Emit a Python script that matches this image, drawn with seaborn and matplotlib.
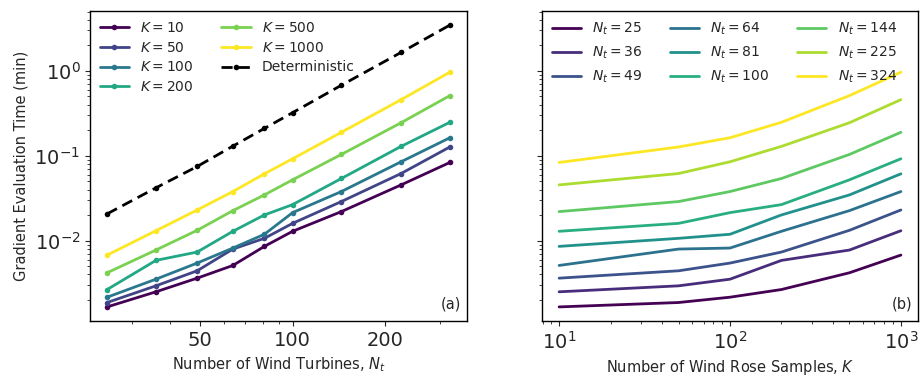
import numpy as np
import pandas as pd
import matplotlib
matplotlib.use("Agg")
import matplotlib.pyplot as plt
import seaborn as sns
from matplotlib.ticker import LogLocator, FixedLocator, ScalarFormatter, NullFormatter

# ---- data ----
n_turbines = [25, 36, 49, 64, 81, 100, 144, 225, 324]
k_samples = [10, 50, 100, 200, 500, 1000]

time_k10 = [0.00166, 0.0025, 0.00362, 0.00511, 0.00857, 0.0129, 0.0220, 0.0454, 0.0834]
time_k50 = [0.00187, 0.00294, 0.00442, 0.00797, 0.01066, 0.0160, 0.0289, 0.0618, 0.127]
time_k100 = [0.00216, 0.00352, 0.00545, 0.00819, 0.0119, 0.0214, 0.0379, 0.085, 0.163]
time_k200 = [0.00266, 0.00586, 0.00735, 0.0129, 0.0201, 0.0266, 0.054, 0.129, 0.248]
time_k500 = [0.00419, 0.00776, 0.01325, 0.0226, 0.0346, 0.0521, 0.1037, 0.245, 0.511]
time_k1000 = [0.00677, 0.0131, 0.0230, 0.0379, 0.0613, 0.0922, 0.189, 0.458, 0.965]
time_deterministic = [0.0207, 0.0419, 0.0748, 0.130, 0.210, 0.322, 0.677, 1.65, 3.46]

times_by_k = [time_k10, time_k50, time_k100, time_k200, time_k500, time_k1000]

# ---- style ----
sns.set_style("ticks")
plt.rcParams['font.family'] = ['DejaVu Sans']
plt.rcParams['mathtext.fontset'] = 'dejavusans'

fig = plt.figure(figsize=(9.22, 3.76), dpi=100)
W, H = 922, 376
ax1 = fig.add_axes([90 / W, (H - 321) / H, 377 / W, 310 / H])
ax2 = fig.add_axes([542 / W, (H - 321) / H, 376 / W, 310 / H], sharey=ax1)

pal6 = [plt.cm.viridis(v) for v in np.linspace(0, 1, 6)]
pal9 = [plt.cm.viridis(v) for v in np.linspace(0, 1, 9)]

# ---- panel (a) ----
for k, t, c in zip(k_samples, times_by_k, pal6):
    df = pd.DataFrame({"Nt": n_turbines, "time": t})
    sns.lineplot(data=df, x="Nt", y="time", ax=ax1, color=c, lw=2,
                 marker="o", markersize=4, markeredgewidth=0,
                 label=f"$K = {k}$")
dfd = pd.DataFrame({"Nt": n_turbines, "time": time_deterministic})
sns.lineplot(data=dfd, x="Nt", y="time", ax=ax1, color="black", lw=2,
             marker="o", markersize=4, markeredgewidth=0,
             linestyle=(0, (4, 2.2)), label="Deterministic")

ax1.set_xscale("log")
ax1.set_yscale("log")
ax1.xaxis.set_major_locator(FixedLocator([50, 100, 200]))
ax1.xaxis.set_major_formatter(ScalarFormatter())
ax1.xaxis.set_minor_locator(LogLocator(base=10, subs=np.arange(2, 10)))
ax1.xaxis.set_minor_formatter(NullFormatter())
ax1.set_xlabel("Number of Wind Turbines, $N_t$", fontsize=10.5)
ax1.set_ylabel("Gradient Evaluation Time (min)", fontsize=10.5)
ax1.tick_params(axis="both", which="major", labelsize=14)
ax1.legend(ncol=2, frameon=False, fontsize=10, loc="upper left",
           handlelength=2.1, columnspacing=2.0, borderaxespad=0.3,
           labelspacing=0.42)
ax1.text(0.985, 0.03, "(a)", transform=ax1.transAxes, ha="right", va="bottom",
         fontsize=10.5)

# ---- panel (b) ----
times_arr = np.array(times_by_k)
for j, (nt, c) in enumerate(zip(n_turbines, pal9)):
    df = pd.DataFrame({"K": k_samples, "time": times_arr[:, j]})
    sns.lineplot(data=df, x="K", y="time", ax=ax2, color=c, lw=2,
                 label=f"$N_t = {nt}$")
ax2.set_xscale("log")
ax2.set_xlabel("Number of Wind Rose Samples, $K$", fontsize=10.5)
ax2.set_ylabel("")
ax2.tick_params(axis="y", which="both", labelleft=False)
ax2.tick_params(axis="x", which="major", labelsize=14)
ax2.legend(ncol=3, frameon=False, fontsize=10, loc="upper left",
           handlelength=2.1, columnspacing=2.0, borderaxespad=0.3,
           labelspacing=0.55)
ax2.text(0.985, 0.03, "(b)", transform=ax2.transAxes, ha="right", va="bottom",
         fontsize=10.5)

for ax in (ax1, ax2):
    for s in ax.spines.values():
        s.set_visible(True)
        s.set_color("black")
        s.set_linewidth(1.0)

fig.savefig("out.png", dpi=100)
